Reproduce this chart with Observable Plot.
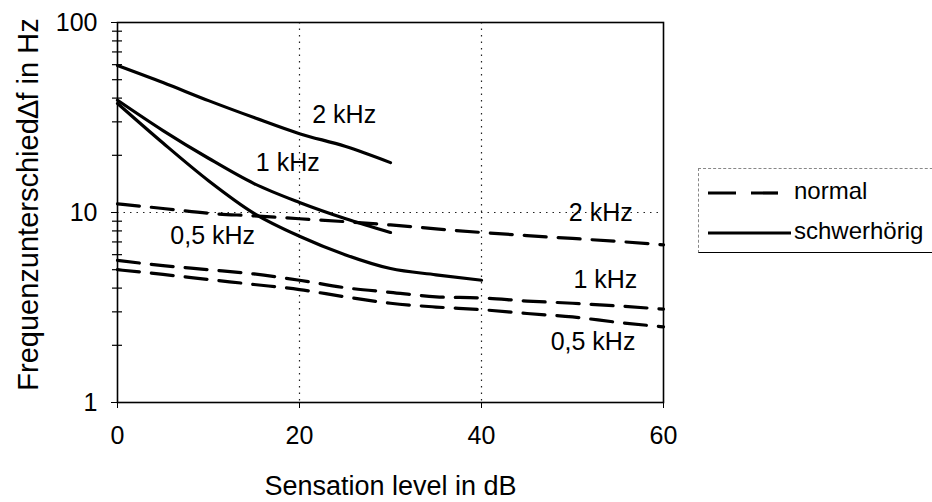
<!DOCTYPE html>
<html><head><meta charset="utf-8">
<script src="https://cdn.jsdelivr.net/npm/d3@7"></script>
<script src="https://cdn.jsdelivr.net/npm/@observablehq/plot@0.6"></script>
<style>
body{margin:0;background:#fff;font-family:"Liberation Sans",Arial,sans-serif}
#wrap{position:relative;width:932px;height:502px;overflow:hidden;background:#fff}
#legend{position:absolute;left:698px;top:168px;width:260px;height:85px;border:1px dashed #888;border-bottom:1.5px solid #000;box-sizing:border-box;background:#fff}
</style></head><body>
<div id="wrap"><div id="chart"></div><div id="legend"></div></div>
<script>
// Sensation level (dB)
const levels = [0, 5, 10, 15, 20, 25, 30, 35, 40, 45, 50, 55, 60];
// normal hearing (dashed)
const normal2k  = [11.1, 10.5, 9.9, 9.6, 9.27, 8.95, 8.6, 8.2, 7.85, 7.56, 7.3, 7.04, 6.76];
const normal1k  = [5.6, 5.25, 5.0, 4.75, 4.4, 4.02, 3.8, 3.6, 3.55, 3.42, 3.33, 3.22, 3.1];
const normal05k = [5.0, 4.72, 4.44, 4.18, 3.93, 3.6, 3.33, 3.18, 3.08, 2.94, 2.82, 2.64, 2.5];
// hearing impaired (solid)
const hi2k  = [59.4, 48.3, 38.8, 31.6, 26.0, 22.3, 18.3];
const hi1k  = [39.0, 27.0, 19.3, 14.2, 11.3, 9.3, 7.85];
const hi05k = [37.5, 23.2, 14.7, 9.9, 7.5, 6.0, 5.07, 4.7, 4.4];
// curve labels
const labelText = ["2 kHz", "1 kHz", "0,5 kHz", "2 kHz", "1 kHz", "0,5 kHz"];
const labelX    = [21.4, 15.2, 5.8, 49.6, 50.1, 47.6];
const labelY    = [32.4, 18.3, 7.48, 9.88, 4.39, 2.09];
// axes
const xTicks = [0, 20, 40, 60];
const yTicks = [1, 10, 100];
const yMinor = [2,3,4,5,6,7,8,9,20,30,40,50,60,70,80,90];
const xTitle = "Sensation level in dB";
const yTitle = "Frequenzunterschied\u2206f in Hz";
const legendLabels = ["normal", "schwerhörig"];

function rows(vals, name) { return vals.map((v, i) => ({x: levels[i], y: v, s: name})); }
const normalData = [...rows(normal2k, "2k"), ...rows(normal1k, "1k"), ...rows(normal05k, "0.5k")];
const hiData = [...rows(hi2k, "2k"), ...rows(hi1k, "1k"), ...rows(hi05k, "0.5k")];
const labels = labelText.map((t, i) => ({t, x: labelX[i], y: labelY[i]}));

const font = '"Liberation Sans", Arial, sans-serif';
const chart = Plot.plot({
  width: 932, height: 502,
  marginLeft: 117, marginRight: 269, marginTop: 22, marginBottom: 100,
  style: {fontFamily: font, fontSize: "25px", color: "black", background: "white", overflow: "visible"},
  x: {domain: [0, 60], ticks: xTicks, tickSize: 6, tickPadding: 18, label: null},
  y: {type: "log", domain: [1, 100], ticks: yTicks, tickFormat: d => String(d), tickSize: 6, tickPadding: 14, label: null},
  marks: [
    Plot.ruleX([20, 40], {stroke: "#222", strokeDasharray: "1.5,5", strokeWidth: 1.2}),
    Plot.ruleY([10], {stroke: "#222", strokeDasharray: "1.5,5", strokeWidth: 1.2}),
    Plot.ruleY(yMinor, {y: d => d, x1: -0.55, x2: 0.55, stroke: "black", strokeWidth: 1.2}),
    Plot.frame({stroke: "black", strokeWidth: 1.6}),
    Plot.line(normalData, {x: "x", y: "y", z: "s", stroke: "black", strokeWidth: 3.2, strokeDasharray: "22,12", curve: "monotone-x"}),
    Plot.line(hiData, {x: "x", y: "y", z: "s", stroke: "black", strokeWidth: 3.2, curve: "monotone-x"}),
    Plot.text(labels, {x: "x", y: "y", text: "t", textAnchor: "start", fontSize: 25, fill: "black"}),
    Plot.text([xTitle], {text: d => d, frameAnchor: "bottom", lineAnchor: "middle", textAnchor: "middle", dy: 84, fontSize: 27, fill: "black"}),
    Plot.text([yTitle], {text: d => d, frameAnchor: "left", lineAnchor: "middle", textAnchor: "middle", dx: -89, dy: -8, rotate: -90, fontSize: 29, fill: "black"})
  ]
});
document.getElementById("chart").appendChild(chart);

// legend
const lg = d3.select("#legend").append("svg").attr("width", 260).attr("height", 84)
  .style("font-family", font);
lg.append("line").attr("x1", 9).attr("x2", 79).attr("y1", 24).attr("y2", 24)
  .attr("stroke", "black").attr("stroke-width", 3.2).attr("stroke-dasharray", "28,15");
lg.append("line").attr("x1", 9).attr("x2", 92).attr("y1", 64).attr("y2", 64)
  .attr("stroke", "black").attr("stroke-width", 3.2);
lg.selectAll("text").data(legendLabels).join("text")
  .attr("x", 95).attr("y", (d, i) => i === 0 ? 24 : 64)
  .attr("dominant-baseline", "middle").attr("font-size", 24).attr("fill", "black")
  .text(d => d);
</script>
</body></html>
